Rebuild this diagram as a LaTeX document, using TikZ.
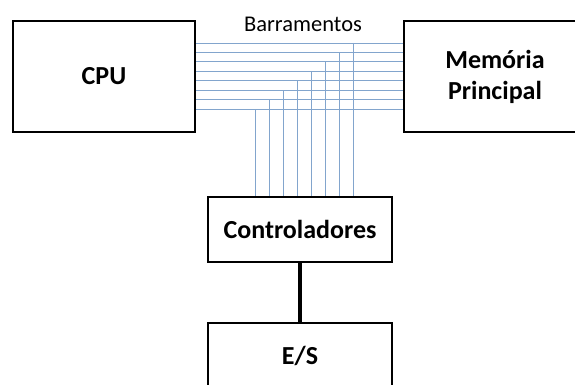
\documentclass[tikz,border=0pt]{standalone}
\usepackage{fontspec}
\setmainfont{Carlito}
\usepackage{tikz}

\definecolor{buscolor}{RGB}{130,165,205}

\begin{document}
\begin{tikzpicture}[x=1pt,y=-1pt,
  unit/.style={draw,line width=1.5pt,inner sep=0pt,font=\fontsize{26}{31}\selectfont\bfseries,align=center},
  busline/.style={buscolor,line width=0.8pt}]
\clip (0,0) rectangle (575,385);
\fill[white] (0,0) rectangle (575,385);
\node[unit,minimum width=182pt,minimum height=111pt] (cpu) at (104,76.5) {CPU};
\node[unit,minimum width=182pt,minimum height=111pt] (mem) at (495,76.5) {Memória\\Principal};
\node[unit,minimum width=184pt,minimum height=65pt] (ctrl) at (300,229.5) {Controladores};
\node[unit,minimum width=184pt,minimum height=65pt] (es) at (300,355.5) {E/S};
\node[anchor=base,font=\fontsize{22.5}{27}\selectfont] (bus) at (303,32) {Barramentos};
% barramentos
\foreach \i in {0,...,7} {
  \draw[busline] (cpu.east |- 0,{43+9.43*\i}) -- (mem.west |- 0,{43+9.43*\i});
  \draw[busline] ({255+14*\i},{43+9.43*(7-\i)}) -- ({255+14*\i},0 |- ctrl.north);
}
\draw[line width=3.5pt] (ctrl.south) -- (es.north);
\end{tikzpicture}
\end{document}
